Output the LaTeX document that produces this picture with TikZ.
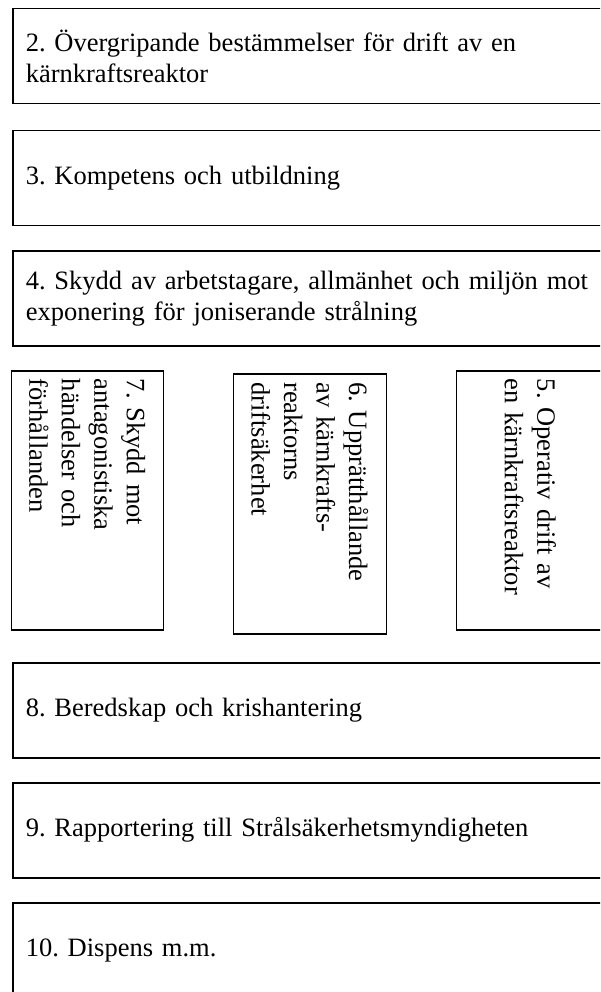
\documentclass[tikz,border=0pt]{standalone}
\usepackage{fontspec}
\setmainfont{Liberation Serif}
\frenchspacing
\begin{document}
\begin{tikzpicture}[x=1pt,y=1pt]
		\tikzset{kapitel/.style = {draw,line width=1.5pt,anchor=north west,align=left,inner xsep=13pt,text width=600pt,minimum height=95pt,font=\fontsize{26.5}{31}\selectfont}}
		\tikzset{kapitelv/.style = {draw,line width=1.5pt,rotate=-90,anchor=north west,align=left,inner xsep=8pt,text width=243pt,minimum width=259pt,font=\fontsize{26.5}{32.5}\selectfont}}
		\useasboundingbox (0,0) rectangle (600,-992);
		\clip (0,0) rectangle (600,-992);
		\node[kapitel] (k2) at (12,-8) {2. Övergripande bestämmelser för drift av en\\kärnkraftsreaktor};
		\node[kapitel] (k3) at (12,-130) {3. Kompetens och utbildning};
		\node[kapitel] (k4) at (12,-250) {4. Skydd av arbetstagare, allmänhet och miljön mot\\exponering för joniserande strålning};
		\node[kapitelv,minimum height=152pt] (k7) at (164,-370) {7. Skydd mot\\antagonistiska\\händelser och\\förhållanden};
		\node[kapitelv,minimum height=153pt,minimum width=260pt] (k6) at (387,-373) {6. Upprätthållande\\av kärnkrafts-\\reaktorns\\driftsäkerhet};
		\node[kapitelv,minimum height=148pt] (k5) at (605,-370) {5. Operativ drift av\\en kärnkraftsreaktor};
		\node[kapitel] (k8) at (12,-662) {8. Beredskap och krishantering};
		\node[kapitel] (k9) at (12,-782) {9. Rapportering till Strålsäkerhetsmyndigheten};
		\node[kapitel] (k10) at (12,-902) {10. Dispens m.m.};
	\end{tikzpicture}
\end{document}
